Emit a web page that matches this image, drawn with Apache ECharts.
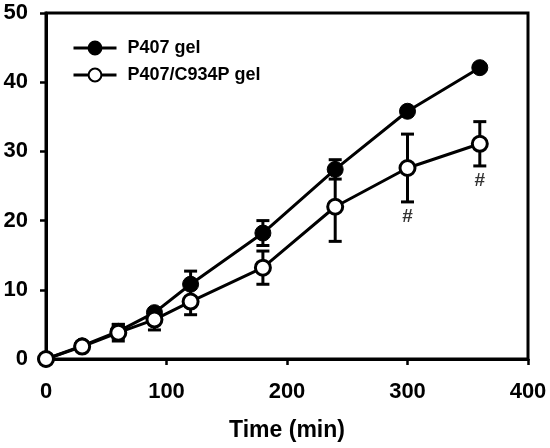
<!DOCTYPE html>
<html><head><meta charset="utf-8">
<script src="https://cdn.jsdelivr.net/npm/echarts@6/dist/echarts.min.js"></script>
<style>html,body{margin:0;padding:0;background:#fff}#c{width:550px;height:448px}</style>
</head><body><div id="c"></div>
<script>
const times = [0, 30, 60, 90, 120, 180, 240, 300, 360];
const p407 = [0, 1.9, 4.0, 6.7, 10.8, 18.2, 27.4, 35.8, 42.1];
const p407Err = [0, 0.3, 1.0, 0.6, 1.9, 1.8, 1.4, 0.5, 0.4];
const c934 = [0, 1.8, 3.8, 5.7, 8.3, 13.2, 22.0, 27.6, 31.1];
const c934Err = [0, 0.3, 1.2, 1.5, 1.9, 2.4, 5.0, 4.9, 3.2];
const hashTimes = [300, 360];
const xTicks = [0, 100, 200, 300, 400];
const yTicks = [0, 10, 20, 30, 40, 50];

const F = '"Liberation Sans", Arial, sans-serif';
const errData = (vals, errs) => times.map((t, i) => [t, vals[i] - errs[i], vals[i] + errs[i]]);

function renderErr(params, api) {
  const x = api.value(0);
  const lo = api.coord([x, api.value(1)]);
  const hi = api.coord([x, api.value(2)]);
  const w = 6.5;
  const st = { stroke: '#000', lineWidth: 3 };
  return {
    type: 'group',
    children: [
      { type: 'line', shape: { x1: lo[0], y1: lo[1], x2: hi[0], y2: hi[1] }, style: st },
      { type: 'line', shape: { x1: lo[0] - w, y1: lo[1], x2: lo[0] + w, y2: lo[1] }, style: st },
      { type: 'line', shape: { x1: hi[0] - w, y1: hi[1], x2: hi[0] + w, y2: hi[1] }, style: st }
    ]
  };
}

const hashData = hashTimes.map(t => {
  const i = times.indexOf(t);
  return [t, c934[i] - c934Err[i]];
});

const chart = echarts.init(document.getElementById('c'));
chart.setOption({
  animation: false,
  grid: { left: 46, right: 22, top: 13, bottom: 89, show: true, borderColor: '#000', borderWidth: 3 },
  legend: {
    left: 67, top: 34, orient: 'vertical', itemWidth: 43, itemHeight: 16, itemGap: 9,
    data: ['P407 gel', 'P407/C934P gel'],
    lineStyle: { width: 3 },
    textStyle: { fontFamily: F, fontWeight: 'bold', fontSize: 18, color: '#000', padding: [0, 0, 0, 6] }
  },
  xAxis: {
    type: 'value', min: 0, max: 400, interval: 100,
    name: 'Time (min)', nameLocation: 'middle', nameGap: 60,
    nameTextStyle: { fontFamily: F, fontWeight: 'bold', fontSize: 23, color: '#000' },
    axisLine: { lineStyle: { color: '#000', width: 3 } },
    axisTick: { inside: false, length: 6, lineStyle: { color: '#000', width: 2.5 } },
    axisLabel: { margin: 22, fontFamily: F, fontWeight: 'bold', fontSize: 22, color: '#000',
      formatter: v => xTicks.includes(v) ? String(v) : '' },
    splitLine: { show: false }
  },
  yAxis: {
    type: 'value', min: 0, max: 50, interval: 10,
    axisLine: { show: true, lineStyle: { color: '#000', width: 3 } },
    axisTick: { show: true, inside: false, length: 6, lineStyle: { color: '#000', width: 2.5 } },
    axisLabel: { margin: 18, fontFamily: F, fontWeight: 'bold', fontSize: 22, color: '#000',
      formatter: v => yTicks.includes(v) ? String(v) : '' },
    splitLine: { show: false }
  },
  series: [
    { type: 'custom', renderItem: renderErr, data: errData(p407, p407Err), z: 1, silent: true },
    {
      name: 'P407 gel', type: 'line', data: times.map((t, i) => [t, p407[i]]),
      symbol: 'circle', symbolSize: 16,
      lineStyle: { color: '#000', width: 3 },
      itemStyle: { color: '#000', borderColor: '#000', borderWidth: 1 }, z: 2
    },
    { type: 'custom', renderItem: renderErr, data: errData(c934, c934Err), z: 3, silent: true },
    {
      name: 'P407/C934P gel', type: 'line', data: times.map((t, i) => [t, c934[i]]),
      symbol: 'circle', symbolSize: 15,
      lineStyle: { color: '#000', width: 3 },
      itemStyle: { color: '#fff', borderColor: '#000', borderWidth: 3 }, z: 4
    },
    {
      type: 'scatter', data: hashData, symbolSize: 0, z: 5, silent: true,
      label: { show: true, position: 'bottom', distance: 5, formatter: '#',
        fontFamily: F, fontWeight: 'bold', fontSize: 19, color: '#000' }
    }
  ]
});
</script>
</body></html>
